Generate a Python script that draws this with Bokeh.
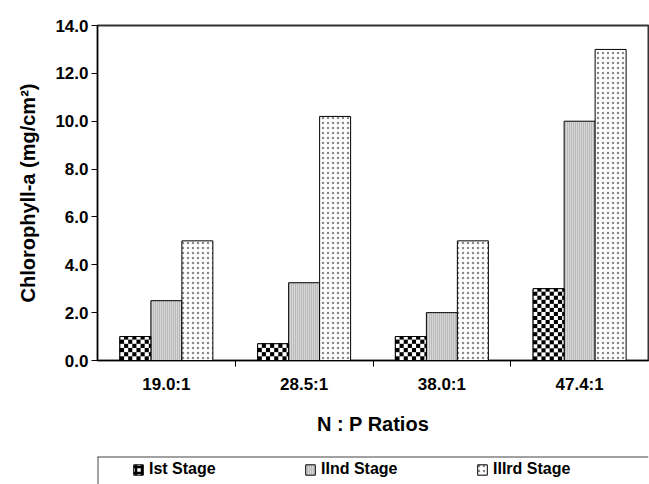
import numpy as np
from bokeh.plotting import figure
from bokeh.models import (ColumnDataSource, Range1d, FixedTicker, SingleIntervalTicker,
                          NumeralTickFormatter, Legend, LegendItem, Span)
from bokeh.transform import dodge
from bokeh.layouts import column
from bokeh.embed import file_html
from bokeh.resources import INLINE

# ---- data ----
categories = ["19.0:1", "28.5:1", "38.0:1", "47.4:1"]
stage1 = [1.0, 0.7, 1.0, 3.0]
stage2 = [2.5, 3.25, 2.0, 10.0]
stage3 = [5.0, 10.2, 5.0, 13.0]
series_names = ["Ist Stage", "IInd Stage", "IIIrd Stage"]
y_max = 14
y_step = 2

FONT = "Liberation Sans"

# ---- layout constants ----
FIG_W, FIG_H = 649, 455
B_LEFT, B_RIGHT, B_TOP, B_BOTTOM = 97, 1, 25, 95
frame_w = FIG_W - B_LEFT - B_RIGHT
frame_h = FIG_H - B_TOP - B_BOTTOM

centers = [i + 0.5 for i in range(len(categories))]
bar_w = 0.225
src = ColumnDataSource(dict(x=centers, s1=stage1, s2=stage2, s3=stage3))

styles = [
    dict(fill_color="white", hatch_pattern="cross", hatch_color="black", hatch_scale=6, hatch_weight=2.5),
    dict(fill_color="#d8d8d8", hatch_pattern="vertical_line", hatch_color="#9a9a9a", hatch_scale=2, hatch_weight=1),
    dict(fill_color="white", hatch_pattern="dot", hatch_color="#8a8a8a", hatch_scale=5, hatch_weight=0.8),
]
cols = ["s1", "s2", "s3"]
offsets = [-bar_w, 0.0, bar_w]


def add_bars(fig, visible=True):
    rs = []
    for col, off, st in zip(cols, offsets, styles):
        r = fig.vbar(x=dodge("x", off), top=col, width=bar_w, bottom=0, source=src,
                     line_color="black", line_width=1, hatch_alpha=1.0, **st)
        r.visible = visible
        rs.append(r)
    return rs


def checker_image(nx, ny, cell=4):
    yy, xx = np.mgrid[0:ny, 0:nx]
    black = ((xx // cell) + (yy // cell)) % 2 == 0
    img = np.empty((ny, nx), dtype=np.uint32)
    view = img.view(dtype=np.uint8).reshape((ny, nx, 4))
    view[...] = 255
    view[black, 0:3] = 0
    return img


p = figure(width=FIG_W, height=FIG_H, output_backend="svg", toolbar_location=None,
           x_range=Range1d(0, len(categories)), y_range=Range1d(0, y_max),
           min_border_left=B_LEFT, min_border_right=B_RIGHT, min_border_top=B_TOP,
           min_border_bottom=B_BOTTOM)
p.outline_line_color = "#333333"
p.outline_line_width = 2
p.xgrid.visible = False
p.ygrid.visible = False
p.background_fill_color = "white"

add_bars(p)

# checkerboard texture for the first stage (texture fills are not available in SVG)
px_x = frame_w / len(categories)
px_y = frame_h / y_max
nx = int(round(bar_w * px_x))
imgs = [checker_image(nx, max(1, int(round(v * px_y)))) for v in stage1]
p.image_rgba(image=imgs, x=[c - 1.5 * bar_w for c in centers], y=[0] * len(stage1),
             dw=[bar_w] * len(stage1), dh=stage1)
p.vbar(x=dodge("x", offsets[0]), top="s1", width=bar_w, bottom=0, source=src,
       fill_color=None, line_color="black", line_width=1)

# x axis
p.xaxis.ticker = FixedTicker(ticks=centers, minor_ticks=[i for i in range(1, len(categories))])
p.xaxis.major_label_overrides = {c: lab for c, lab in zip(centers, categories)}
p.xaxis.major_tick_line_color = None
p.xaxis.major_tick_out = 6
p.xaxis.major_tick_in = 0
p.xaxis.minor_tick_line_color = "black"
p.xaxis.minor_tick_out = 6
p.xaxis.minor_tick_in = 0
p.xaxis.major_label_standoff = 8
p.xaxis.axis_label = "N : P Ratios"
p.xaxis.axis_label_standoff = 16

# y axis
p.yaxis.ticker = SingleIntervalTicker(interval=y_step, num_minor_ticks=0)
p.yaxis.formatter = NumeralTickFormatter(format="0.0")
p.yaxis.major_tick_out = 6
p.yaxis.major_tick_in = 0
p.yaxis.minor_tick_line_color = None
p.yaxis.major_label_standoff = 3
p.yaxis.axis_label = "Chlorophyll-a (mg/cm\u00b2)"
p.yaxis.axis_label_standoff = 13

for ax in (p.xaxis, p.yaxis):
    ax.axis_line_color = "black"
    ax.axis_line_width = 1
    ax.major_label_text_font = FONT
    ax.major_label_text_font_style = "bold"
    ax.major_label_text_font_size = "17px"
    ax.major_label_text_color = "black"
    ax.axis_label_text_font = FONT
    ax.axis_label_text_font_style = "bold"
    ax.axis_label_text_font_size = "20px"
    ax.axis_label_text_color = "black"

# legend strip
p2 = figure(width=FIG_W, height=29, output_backend="svg", toolbar_location=None,
            x_range=Range1d(0, 1), y_range=Range1d(0, 1),
            min_border_left=95, min_border_right=0, min_border_top=1, min_border_bottom=0)
p2.axis.visible = False
p2.grid.visible = False
p2.outline_line_color = None
lrs = add_bars(p2, visible=False)
p2.add_layout(Span(location=1, dimension="width", line_color="#444444", line_width=2))
p2.add_layout(Span(location=0, dimension="height", line_color="#444444", line_width=2))

legend = Legend(items=[LegendItem(label=n, renderers=[r]) for n, r in zip(series_names, lrs)],
                orientation="horizontal", location=(35, 6), padding=0, margin=0,
                spacing=5, label_width=150, glyph_width=12, glyph_height=13, label_standoff=5,
                border_line_color=None, background_fill_alpha=0,
                label_text_font=FONT, label_text_font_style="bold",
                label_text_font_size="16px", label_text_color="black")
p2.add_layout(legend, "center")

layout = column(p, p2, spacing=0)
open("out.html", "w").write(file_html(layout, INLINE))
